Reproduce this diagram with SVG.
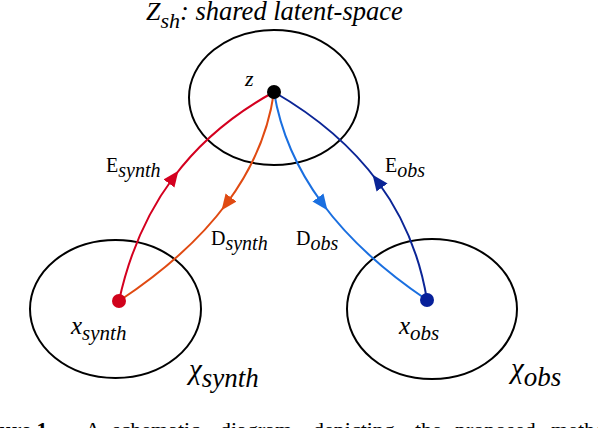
<svg xmlns="http://www.w3.org/2000/svg" width="598" height="428" viewBox="0 0 598 428">
<style>
.sp{fill:none;stroke:#000;stroke-width:2}
.t{fill:#000}
.i{font-style:italic}
.c{fill:none;stroke-width:2}
</style>
<defs>
<marker id="aR" markerUnits="userSpaceOnUse" markerWidth="16" markerHeight="16" refX="6" refY="6" orient="auto" viewBox="0 0 14 12"><path d="M0,0 L14,6 L0,12 Z" fill="#d4001f"/></marker>
<marker id="aO" markerUnits="userSpaceOnUse" markerWidth="16" markerHeight="16" refX="6" refY="6" orient="auto" viewBox="0 0 14 12"><path d="M0,0 L14,6 L0,12 Z" fill="#e04a12"/></marker>
<marker id="aL" markerUnits="userSpaceOnUse" markerWidth="16" markerHeight="16" refX="6" refY="6" orient="auto" viewBox="0 0 14 12"><path d="M0,0 L14,6 L0,12 Z" fill="#1a6fe0"/></marker>
<marker id="aD" markerUnits="userSpaceOnUse" markerWidth="16" markerHeight="16" refX="6" refY="6" orient="auto" viewBox="0 0 14 12"><path d="M0,0 L14,6 L0,12 Z" fill="#0b2596"/></marker>
</defs>

<g id="space-shared">
<ellipse class="sp" cx="274" cy="97.5" rx="85" ry="67.5"/>
<text class="t i" font-family="Liberation Serif, Times New Roman, DejaVu Serif, serif" x="146" y="20" font-size="26">Z<tspan font-size="22" dy="8">sh</tspan><tspan font-size="26.5" dy="-8">: shared latent-space</tspan></text>
</g>
<g id="space-synth">
<ellipse class="sp" cx="115.5" cy="309" rx="85.5" ry="69"/>
<text class="t i" font-family="Liberation Serif, Times New Roman, DejaVu Serif, serif" x="189" y="379" font-size="29">χ<tspan font-size="27" dy="8">synth</tspan></text>
</g>
<g id="space-obs">
<ellipse class="sp" cx="432" cy="309" rx="85" ry="70"/>
<text class="t i" font-family="Liberation Serif, Times New Roman, DejaVu Serif, serif" x="511" y="378" font-size="29">χ<tspan font-size="27" dy="8">obs</tspan></text>
</g>

<g id="connectors">
<path class="c" stroke="#d4001f" marker-mid="url(#aR)" d="M119,301 Q134.25,230.25 173,178 Q211.75,125.75 274,92"/>
<path class="c" stroke="#e04a12" marker-mid="url(#aO)" d="M274,92 Q265.75,150.75 227,203 Q188.25,255.25 119,301"/>
<path class="c" stroke="#1a6fe0" marker-mid="url(#aL)" d="M274,92 Q283.75,151 322,203 Q360.25,255 427,300"/>
<path class="c" stroke="#0b2596" marker-mid="url(#aD)" d="M427,300 Q416.25,234 378,182 Q339.75,130 274,92"/>
<text class="t" font-family="Liberation Serif, Times New Roman, DejaVu Serif, serif" x="106" y="172" font-size="20">E<tspan class="i" dy="5">synth</tspan></text>
<text class="t" font-family="Liberation Serif, Times New Roman, DejaVu Serif, serif" x="211" y="245" font-size="20">D<tspan class="i" dy="5">synth</tspan></text>
<text class="t" font-family="Liberation Serif, Times New Roman, DejaVu Serif, serif" x="385" y="172" font-size="20">E<tspan class="i" dy="5">obs</tspan></text>
<text class="t" font-family="Liberation Serif, Times New Roman, DejaVu Serif, serif" x="296" y="245" font-size="20">D<tspan class="i" dy="5">obs</tspan></text>
</g>

<g id="node-z">
<circle cx="274" cy="92" r="7" fill="#000"/>
<text class="t i" font-family="Liberation Serif, Times New Roman, DejaVu Serif, serif" x="245" y="86" font-size="22">z</text>
</g>
<g id="node-xsynth">
<circle cx="119" cy="301" r="7" fill="#d0021b"/>
<text class="t i" font-family="Liberation Serif, Times New Roman, DejaVu Serif, serif" x="71" y="334" font-size="25">x<tspan font-size="21" dy="6">synth</tspan></text>
</g>
<g id="node-xobs">
<circle cx="427" cy="300" r="7" fill="#07209a"/>
<text class="t i" font-family="Liberation Serif, Times New Roman, DejaVu Serif, serif" x="399" y="334" font-size="25">x<tspan font-size="21" dy="6">obs</tspan></text>
</g>

<g id="caption">
<text class="t" font-family="Liberation Serif, Times New Roman, DejaVu Serif, serif" y="437" font-size="22"><tspan x="-31" font-weight="bold">Figure 1.</tspan><tspan x="85">A</tspan><tspan x="112">schematic</tspan><tspan x="220">diagram</tspan><tspan x="313">depicting</tspan><tspan x="415">the</tspan><tspan x="455">proposed</tspan><tspan x="551">method</tspan></text>
</g>
</svg>
